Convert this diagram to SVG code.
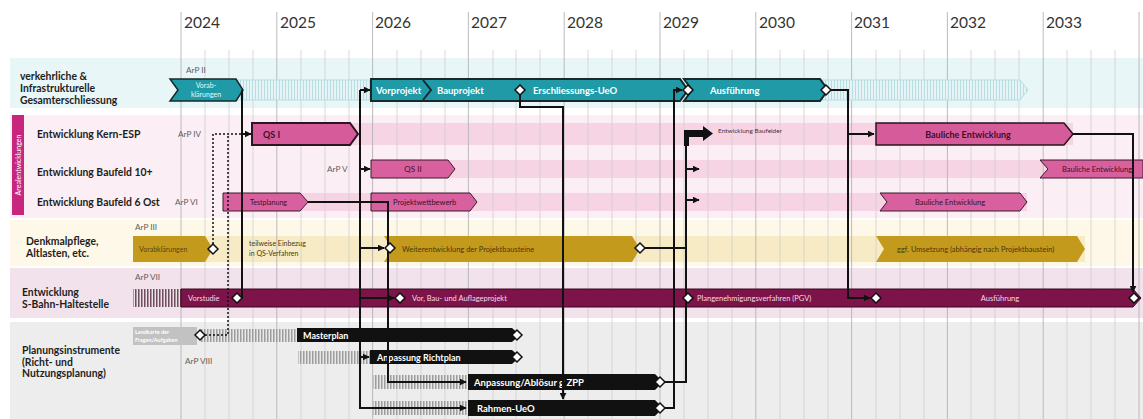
<svg xmlns="http://www.w3.org/2000/svg" width="1143" height="419" viewBox="0 0 1143 419">
<defs>
<style>
text{font-family:Lato,"Liberation Sans",sans-serif}
.lbl{font-weight:700;font-size:10.4px;fill:#1d1d1d}
.yr{font-size:15.5px;fill:#333}
.arp{font-size:8.2px;fill:#5e5e5e}
.sm{font-size:7px}
.bw{font-weight:700;fill:#fff}
.pk{fill:#3a1028}
.conn path{stroke:#111;stroke-width:2;fill:none}
.gq{stroke:#cfcfcf;stroke-width:0.8}
.gy{stroke:#b4b4b4;stroke-width:0.9}
.dia{fill:#fff;stroke:#111;stroke-width:1.5}
</style>
<pattern id="hTeal" width="3" height="10" patternUnits="userSpaceOnUse"><rect width="3" height="10" fill="#e6f4f6"/><line x1="0.5" y1="0" x2="0.5" y2="10" stroke="#b7dde2" stroke-width="1"/></pattern>
<pattern id="hDark" width="3" height="10" patternUnits="userSpaceOnUse"><rect width="3" height="10" fill="#efe3ea"/><line x1="0.8" y1="0" x2="0.8" y2="10" stroke="#5a3348" stroke-width="1.3"/></pattern>
<pattern id="hGray" width="3" height="10" patternUnits="userSpaceOnUse"><rect width="3" height="10" fill="#e8e8e8"/><line x1="0.8" y1="0" x2="0.8" y2="10" stroke="#8a8a8a" stroke-width="1.2"/></pattern>
<marker id="ah" viewBox="0 0 10 10" refX="9" refY="5" markerWidth="7" markerHeight="7" markerUnits="userSpaceOnUse" orient="auto"><path d="M0 0 L10 5 L0 10 Z" fill="#111"/></marker>
<path id="dm" class="dia" d="M-5 0 L0 -5 L5 0 L0 5 Z"/>
</defs>
<rect width="1143" height="419" fill="#fff"/>

<g id="backgrounds">
<rect x="10" y="58" width="1133" height="50" fill="#e8f6f7"/>
<rect x="10" y="115" width="1133" height="103" fill="#fbeef4"/>
<rect x="252" y="123" width="821" height="22" fill="#f7d4e4"/>
<rect x="371" y="160" width="772" height="18" fill="#f7d4e4"/>
<rect x="223" y="193" width="804" height="18" fill="#f7d4e4"/>
<rect x="10" y="220" width="1133" height="46" fill="#fdf8e7"/>
<rect x="133" y="236" width="952" height="26" fill="#f6ebc4"/>
<rect x="10" y="268" width="1133" height="50" fill="#f1e2eb"/>
<rect x="10" y="322" width="1133" height="97" fill="#ededed"/>
</g>

<g id="grid">
<g class="gy">
<line x1="181" y1="12" x2="181" y2="419"/><line x1="276.8" y1="12" x2="276.8" y2="419"/><line x1="372.6" y1="12" x2="372.6" y2="419"/><line x1="468.4" y1="12" x2="468.4" y2="419"/><line x1="564.2" y1="12" x2="564.2" y2="419"/><line x1="660" y1="12" x2="660" y2="419"/><line x1="755.8" y1="12" x2="755.8" y2="419"/><line x1="851.6" y1="12" x2="851.6" y2="419"/><line x1="947.4" y1="12" x2="947.4" y2="419"/><line x1="1043.2" y1="12" x2="1043.2" y2="419"/><line x1="1139" y1="12" x2="1139" y2="419"/>
</g>
<g class="gq">
<line x1="205" y1="50" x2="205" y2="419"/><line x1="229" y1="50" x2="229" y2="419"/><line x1="253" y1="50" x2="253" y2="419"/>
<line x1="301" y1="50" x2="301" y2="419"/><line x1="325" y1="50" x2="325" y2="419"/><line x1="349" y1="50" x2="349" y2="419"/>
<line x1="397" y1="50" x2="397" y2="419"/><line x1="421" y1="50" x2="421" y2="419"/><line x1="445" y1="50" x2="445" y2="419"/>
<line x1="493" y1="50" x2="493" y2="419"/><line x1="516" y1="50" x2="516" y2="419"/><line x1="540" y1="50" x2="540" y2="419"/>
<line x1="588" y1="50" x2="588" y2="419"/><line x1="612" y1="50" x2="612" y2="419"/><line x1="636" y1="50" x2="636" y2="419"/>
<line x1="684" y1="50" x2="684" y2="419"/><line x1="708" y1="50" x2="708" y2="419"/><line x1="732" y1="50" x2="732" y2="419"/>
<line x1="780" y1="50" x2="780" y2="419"/><line x1="804" y1="50" x2="804" y2="419"/><line x1="828" y1="50" x2="828" y2="419"/>
<line x1="876" y1="50" x2="876" y2="419"/><line x1="900" y1="50" x2="900" y2="419"/><line x1="924" y1="50" x2="924" y2="419"/>
<line x1="971" y1="50" x2="971" y2="419"/><line x1="995" y1="50" x2="995" y2="419"/><line x1="1019" y1="50" x2="1019" y2="419"/>
<line x1="1067" y1="50" x2="1067" y2="419"/><line x1="1091" y1="50" x2="1091" y2="419"/><line x1="1115" y1="50" x2="1115" y2="419"/>
</g>
<g class="yr">
<text x="184" y="28">2024</text><text x="280" y="28">2025</text><text x="375" y="28">2026</text><text x="471" y="28">2027</text><text x="567" y="28">2028</text><text x="663" y="28">2029</text><text x="759" y="28">2030</text><text x="854" y="28">2031</text><text x="950" y="28">2032</text><text x="1046" y="28">2033</text>
</g>
</g>

<g id="row-labels">
<text class="lbl" x="20" y="80">verkehrliche &amp;</text>
<text class="lbl" x="20" y="92">Infrastrukturelle</text>
<text class="lbl" x="20" y="104">Gesamterschliessung</text>
<rect x="12" y="115" width="12" height="100" fill="#c8267d"/>
<text transform="translate(20.5 165) rotate(-90)" text-anchor="middle" font-size="7" fill="#fff">Arealentwicklungen</text>
<text class="lbl" x="37" y="138">Entwicklung Kern-ESP</text>
<text class="lbl" x="37" y="176">Entwicklung Baufeld 10+</text>
<text class="lbl" x="37" y="206">Entwicklung Baufeld 6 Ost</text>
<text class="lbl" x="26" y="245">Denkmalpflege,</text>
<text class="lbl" x="26" y="257">Altlasten, etc.</text>
<text class="lbl" x="22" y="296">Entwicklung</text>
<text class="lbl" x="22" y="308">S-Bahn-Haltestelle</text>
<text class="lbl" x="22" y="354">Planungsinstrumente</text>
<text class="lbl" x="22" y="366">(Richt- und</text>
<text class="lbl" x="22" y="377">Nutzungsplanung)</text>
<g class="arp">
<text x="186" y="73">ArP II</text>
<text x="178" y="137">ArP IV</text>
<text x="327" y="172">ArP V</text>
<text x="175" y="205">ArP VI</text>
<text x="135" y="230">ArP III</text>
<text x="135" y="280">ArP VII</text>
<text x="185" y="364">ArP VIII</text>
</g>
</g>

<g id="node-erschliessung">
<path d="M236 80 H1020 L1028 90 L1020 100 H236 Z" fill="url(#hTeal)" stroke="#b7dde2" stroke-width="1"/>
<path d="M170 79 H236 L243 90 L236 101 H170 L178 90 Z" fill="#1f9aa6" stroke="#17292c" stroke-width="1.5"/>
<text class="sm" x="206" y="88" text-anchor="middle" fill="#e8f7f8" font-size="6.5">Vorab-</text>
<text class="sm" x="206" y="97" text-anchor="middle" fill="#e8f7f8" font-size="6.5">klärungen</text>
<path d="M684 79 H820 L828 90 L820 101 H684 L692 90 Z" fill="#1f9aa6" stroke="#17292c" stroke-width="2"/>
<path d="M371 79 H680 L688 90 L680 101 H371 Z" fill="#1f9aa6" stroke="#17292c" stroke-width="2"/>
<path d="M423 80 L431 90 L423 100" fill="none" stroke="#17292c" stroke-width="2"/>
<text class="bw" x="376" y="94" font-size="9.5">Vorprojekt</text>
<text class="bw" x="437" y="94" font-size="9.5">Bauprojekt</text>
<text class="bw" x="533" y="94" font-size="9.5">Erschliessungs-UeO</text>
<text class="bw" x="710" y="94" font-size="9.5">Ausführung</text>
</g>

<g id="node-kern-esp">
<path d="M252 123 H350 L358 134 L350 145 H252 Z" fill="#d65b9b" stroke="#2b1520" stroke-width="2"/>
<text class="pk" x="263" y="138" font-size="9" font-weight="700">QS I</text>
<text x="718" y="133" font-size="6.5" fill="#4a3040">Entwicklung Baufelder</text>
<path d="M876 123 H1064 L1073 134 L1064 145 H876 Z" fill="#d65b9b" stroke="#2b1520" stroke-width="1.5"/>
<text class="pk" x="968" y="138" font-size="9" font-weight="700" text-anchor="middle">Bauliche Entwicklung</text>
</g>

<g id="node-baufeld-10">
<path d="M371 160 H448 L455 169 L448 178 H371 Z" fill="#d9609f" stroke="#3a1a2a" stroke-width="1"/>
<text class="pk" x="413" y="172" font-size="8" text-anchor="middle">QS II</text>
<path d="M1040 160 H1143 V178 H1040 L1048 169 Z" fill="#d9609f" stroke="#3a1a2a" stroke-width="1"/>
<text class="pk" x="1097" y="172" font-size="7.5" text-anchor="middle">Bauliche Entwicklung</text>
</g>

<g id="node-baufeld-6">
<path d="M223 193 H300 L308 202 L300 211 H223 Z" fill="#d9609f" stroke="#3a1a2a" stroke-width="1"/>
<text class="pk" x="250" y="205" font-size="7">Testplanung</text>
<path d="M371 193 H470 L477 202 L470 211 H371 Z" fill="#d9609f" stroke="#3a1a2a" stroke-width="1"/>
<text class="pk" x="393" y="205" font-size="7.5">Projektwettbewerb</text>
<path d="M880 193 H1020 L1027 202 L1020 211 H880 L887 202 Z" fill="#d9609f" stroke="#3a1a2a" stroke-width="1"/>
<text class="pk" x="950" y="205" font-size="7.5" text-anchor="middle">Bauliche Entwicklung</text>
</g>

<g id="node-denkmal">
<path d="M133 236 H205 L213 249 L205 262 H133 Z" fill="#c49a1c"/>
<text x="139" y="252" font-size="7" fill="#5a4510">Vorabklärungen</text>
<text x="249" y="246" font-size="7" fill="#4a380c">teilweise Einbezug</text>
<text x="249" y="256" font-size="7" fill="#4a380c">in QS-Verfahren</text>
<path d="M384 236 H632 L640 249 L632 262 H384 L392 249 Z" fill="#c49a1c"/>
<text x="402" y="252" font-size="7.5" fill="#4a380c">Weiterentwicklung der Projektbausteine</text>
<path d="M876 236 H1077 L1085 249 L1077 262 H876 L884 249 Z" fill="#c49a1c"/>
<text x="897" y="252" font-size="7.5" fill="#4a380c">ggf. Umsetzung (abhängig nach Projektbaustein)</text>
</g>

<g id="node-sbahn">
<rect x="133" y="289" width="48" height="18" fill="url(#hDark)"/>
<path d="M181 289 H1133 L1141 298 L1133 307 H181 Z" fill="#7c1349" stroke="#3a0820" stroke-width="1"/>
<text x="188" y="301" font-size="7.5" fill="#f3dce8">Vorstudie</text>
<text x="412" y="301" font-size="7.5" fill="#f3dce8">Vor, Bau- und Auflageprojekt</text>
<text x="697" y="301" font-size="7.5" fill="#f3dce8">Plangenehmigungsverfahren (PGV)</text>
<text x="1000" y="301" font-size="7.5" fill="#f3dce8" text-anchor="middle">Ausführung</text>
</g>

<g id="node-planung">
<rect x="133" y="327" width="64" height="18" fill="#c2c2c2"/>
<text x="135" y="334" font-size="5.5" fill="#fff" font-weight="700">Landkarte der</text>
<text x="135" y="342" font-size="5.5" fill="#fff" font-weight="700">Fragen/Aufgaben</text>
<rect x="200" y="329" width="97" height="13" fill="url(#hGray)"/>
<path d="M297 328 H512 L520 335 L512 342 H297 Z" fill="#111"/>
<text class="bw" x="303" y="338.5" font-size="9">Masterplan</text>
<rect x="298" y="351" width="72" height="13" fill="url(#hGray)"/>
<path d="M370 350 H512 L520 357 L512 364 H370 Z" fill="#111"/>
<text class="bw" x="377" y="360.5" font-size="9">Anpassung Richtplan</text>
<rect x="373" y="375" width="95" height="14" fill="url(#hGray)"/>
<path d="M468 374 H655 L663 382 L655 390 H468 Z" fill="#111"/>
<text class="bw" x="474" y="386" font-size="9.5">Anpassung/Ablösur g ZPP</text>
<rect x="373" y="401" width="95" height="14" fill="url(#hGray)"/>
<path d="M468 400 H655 L663 408 L655 416 H468 Z" fill="#111"/>
<text class="bw" x="477" y="412" font-size="9.5">Rahmen-UeO</text>
</g>

<g id="connectors" class="conn">
<path d="M213 244 V134 H244" stroke-dasharray="2 2" style="stroke-width:1.5"/>
<path d="M205 335 H228 V134" stroke-dasharray="2 2" style="stroke-width:1.5"/>
<path d="M243 134 H251" marker-end="url(#ah)"/>
<path d="M242 90 V298 H243"/>
<path d="M360 90 H370" marker-end="url(#ah)"/>
<path d="M360 90 V408 H466" marker-end="url(#ah)"/>
<path d="M360 169 H370" marker-end="url(#ah)"/>
<path d="M360 248 H384" marker-end="url(#ah)"/>
<path d="M360 298 H394" marker-end="url(#ah)"/>
<path d="M360 357 H369" marker-end="url(#ah)"/>
<path d="M308 202 H388 V382 H466" marker-end="url(#ah)"/>
<path d="M520 95 V107 H563 V399" marker-end="url(#ah)"/>
<path d="M665 382 H686 V140"/>
<path d="M686 169 H699" marker-end="url(#ah)"/>
<path d="M686 200 H699" marker-end="url(#ah)"/>
<path d="M645 248 H686"/>
<path d="M665 408 H674 V90 H682" marker-end="url(#ah)"/>
<path d="M831 90 H848 V298 H870" marker-end="url(#ah)"/>
<path d="M848 134 H874" marker-end="url(#ah)"/>
<path d="M1073 134 H1133 V292" marker-end="url(#ah)"/>
<path d="M684 146 V130 H703 V126 L713 133.5 L703 141 V137 H689 V146 Z" style="fill:#111;stroke:none"/>
</g>

<g id="milestones">
<use href="#dm" x="520" y="90"/>
<use href="#dm" x="688" y="90"/>
<use href="#dm" x="826" y="90"/>
<use href="#dm" x="213" y="249"/>
<use href="#dm" x="390" y="248"/>
<use href="#dm" x="640" y="248"/>
<use href="#dm" x="237" y="298"/>
<use href="#dm" x="400" y="298"/>
<use href="#dm" x="688" y="298"/>
<use href="#dm" x="876" y="298"/>
<use href="#dm" x="1134" y="298"/>
<use href="#dm" x="200" y="335"/>
<use href="#dm" x="517" y="335"/>
<use href="#dm" x="517" y="357"/>
<use href="#dm" x="660" y="382"/>
<use href="#dm" x="660" y="408"/>
</g>
</svg>
